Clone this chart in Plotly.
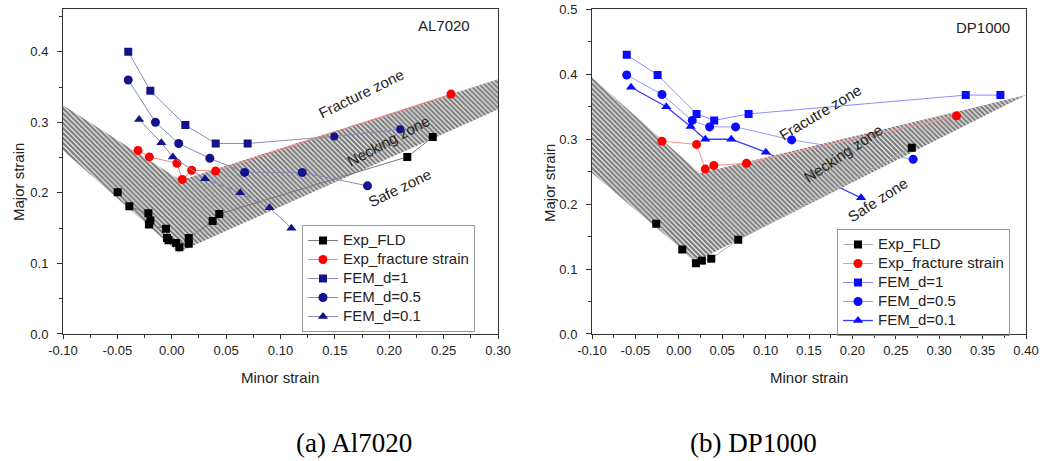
import plotly.graph_objects as go

# ---------------- data: (a) Al7020 ----------------
a_fld_x = [-0.0497, -0.039, -0.0215, -0.0197, -0.021, -0.0053, -0.0044, -0.003, 0.004, 0.007, 0.0156, 0.0156, 0.0376, 0.0437, 0.2166, 0.240]
a_fld_y = [0.201, 0.181, 0.171, 0.161, 0.155, 0.149, 0.136, 0.133, 0.129, 0.123, 0.128, 0.136, 0.160, 0.170, 0.251, 0.279]
a_frac_x = [-0.031, -0.0206, 0.0048, 0.0097, 0.0183, 0.0404, 0.2568]
a_frac_y = [0.260, 0.251, 0.242, 0.219, 0.232, 0.231, 0.340]
a_d1_x = [-0.040, -0.0197, 0.0125, 0.0404, 0.0698, 0.1495, 0.210]
a_d1_y = [0.400, 0.3446, 0.296, 0.270, 0.270, 0.280, 0.290]
a_d1_sym = ["square", "square", "square", "square", "square", "circle", "circle"]
a_d05_x = [-0.040, -0.015, 0.0064, 0.035, 0.067, 0.120, 0.180]
a_d05_y = [0.360, 0.300, 0.270, 0.249, 0.229, 0.229, 0.210]
a_d01_x = [-0.030, -0.0096, 0.001, 0.0306, 0.063, 0.090, 0.110]
a_d01_y = [0.304, 0.271, 0.251, 0.220, 0.200, 0.179, 0.150]
a_band_x = [-0.10, 0.008, 0.30, 0.30, 0.0063, -0.10]
a_band_y = [0.324, 0.218, 0.361, 0.318, 0.116, 0.260]

# ---------------- data: (b) DP1000 ----------------
b_fld_x = [-0.026, 0.004, 0.0197, 0.0266, 0.0374, 0.0685, 0.2684]
b_fld_y = [0.170, 0.130, 0.109, 0.113, 0.116, 0.145, 0.287]
b_frac_x = [-0.0194, 0.0205, 0.0305, 0.0404, 0.078, 0.320]
b_frac_y = [0.297, 0.292, 0.254, 0.2595, 0.263, 0.336]
b_d1_x = [-0.060, -0.0244, 0.0205, 0.0408, 0.0804, 0.3306, 0.3705]
b_d1_y = [0.430, 0.399, 0.339, 0.329, 0.339, 0.368, 0.368]
b_d05_x = [-0.060, -0.0194, 0.0155, 0.0355, 0.0654, 0.130, 0.270]
b_d05_y = [0.399, 0.369, 0.329, 0.319, 0.319, 0.299, 0.269]
b_d01_x = [-0.055, -0.0144, 0.0136, 0.0305, 0.0604, 0.1003, 0.210]
b_d01_y = [0.380, 0.350, 0.3195, 0.300, 0.300, 0.280, 0.2097]
b_band_x = [-0.10, 0.0244, 0.40, 0.0198, -0.10]
b_band_y = [0.395, 0.2477, 0.368, 0.112, 0.248]

# ---------------- tick labels ----------------
a_xtick_vals = [-0.10, -0.05, 0.00, 0.05, 0.10, 0.15, 0.20, 0.25, 0.30]
a_xtick_text = ["-0.10", "-0.05", "0.00", "0.05", "0.10", "0.15", "0.20", "0.25", "0.30"]
b_xtick_vals = [-0.10, -0.05, 0.00, 0.05, 0.10, 0.15, 0.20, 0.25, 0.30, 0.35, 0.40]
b_xtick_text = ["-0.10", "-0.05", "0.00", "0.05", "0.10", "0.15", "0.20", "0.25", "0.30", "0.35", "0.40"]
a_ytick_vals = [0.0, 0.1, 0.2, 0.3, 0.4]
a_ytick_text = ["0.0", "0.1", "0.2", "0.3", "0.4"]
b_ytick_vals = [0.0, 0.1, 0.2, 0.3, 0.4, 0.5]
b_ytick_text = ["0.0", "0.1", "0.2", "0.3", "0.4", "0.5"]

series_names = ["Exp_FLD", "Exp_fracture strain", "FEM_d=1", "FEM_d=0.5", "FEM_d=0.1"]

W, H = 1042, 461
SANS = "Liberation Sans, Arial, sans-serif"
SERIF = "Liberation Serif, Times New Roman, serif"
TXT = "#222222"

fig = go.Figure()

hatch = dict(shape="\\", fgcolor="#000000", bgcolor="#ffffff", size=3.5, solidity=0.7)


def band(x, y, xa, ya):
    return go.Scatter(x=x, y=y, fill="toself", mode="lines", line=dict(width=0, color="rgba(0,0,0,0)"),
                      fillcolor="rgba(0,0,0,0)", fillpattern=hatch, showlegend=False, hoverinfo="skip",
                      xaxis=xa, yaxis=ya)


def series(x, y, name, mcolor, lcolor, sym, size, lw, xa, ya, legend, rank):
    label = '<span style="font-size:15px">' + name + '</span>'
    return go.Scatter(x=x, y=y, name=label, mode="lines+markers",
                      marker=dict(color=mcolor, symbol=sym, size=size),
                      line=dict(color=lcolor, width=lw), xaxis=xa, yaxis=ya,
                      legend=legend, legendrank=rank)


# left panel: band beneath
fig.add_trace(band(a_band_x, a_band_y, "x", "y"))
NAVY = "#12128c"
NAVY_L = "#8a8ab8"
fig.add_trace(series(a_fld_x, a_fld_y, series_names[0], "#000000", "#7a7a7a", "square", 8, 1, "x", "y", "legend", 1))
fig.add_trace(series(a_frac_x, a_frac_y, series_names[1], "#ff0000", "#ff8080", "circle", 9, 1, "x", "y", "legend", 2))
fig.add_trace(series(a_d1_x, a_d1_y, series_names[2], NAVY, NAVY_L, a_d1_sym, 8, 1, "x", "y", "legend", 3))
fig.add_trace(series(a_d05_x, a_d05_y, series_names[3], NAVY, NAVY_L, "circle", 9, 1, "x", "y", "legend", 4))
fig.add_trace(series(a_d01_x, a_d01_y, series_names[4], NAVY, NAVY_L, "triangle-up", 9, 1, "x", "y", "legend", 5))

# right panel: band above the FEM lines
BLUE = "#0a0aff"
fig.add_trace(series(b_d1_x, b_d1_y, series_names[2], BLUE, "#8c8cff", "square", 8, 1, "x2", "y2", "legend2", 3))
fig.add_trace(series(b_d05_x, b_d05_y, series_names[3], BLUE, "#9a9aff", "circle", 9, 1, "x2", "y2", "legend2", 4))
fig.add_trace(series(b_d01_x, b_d01_y, series_names[4], BLUE, "#3a3aff", "triangle-up", 9, 1.3, "x2", "y2", "legend2", 5))
fig.add_trace(band(b_band_x, b_band_y, "x2", "y2"))
fig.add_trace(series(b_fld_x, b_fld_y, series_names[0], "#000000", "#b0b0b0", "square", 8, 1, "x2", "y2", "legend2", 1))
fig.add_trace(series(b_frac_x, b_frac_y, series_names[1], "#ff0000", "#ff9090", "circle", 9, 1, "x2", "y2", "legend2", 2))

ydom = [0.2755, 0.9796]


def xax(dom, rng, vals, text):
    return dict(domain=dom, range=rng, tickvals=vals, ticktext=text, ticks="outside", ticklen=4,
                tickcolor="#333", tickwidth=1, showline=True, linecolor="#333", linewidth=1, mirror=True,
                showgrid=False, zeroline=False, tickfont=dict(family=SANS, size=13, color=TXT),
                minor=dict(dtick=0.025, tick0=0, ticks="outside", ticklen=3, tickcolor="#333"),
                automargin=False, fixedrange=True)


def yax(anchor, rng, vals, text):
    return dict(domain=ydom, anchor=anchor, range=rng, tickvals=vals, ticktext=text, ticks="outside",
                ticklen=5, tickcolor="#333", tickwidth=1, showline=True, linecolor="#333", linewidth=1,
                mirror=True, showgrid=False, zeroline=False, tickfont=dict(family=SANS, size=13, color=TXT),
                minor=dict(dtick=0.05, tick0=0, ticks="outside", ticklen=3, tickcolor="#333"),
                ticklabelstandoff=6, automargin=False, fixedrange=True)


legend_common = dict(font=dict(family=SANS, size=12, color=TXT), bordercolor="#9a9a9a", borderwidth=1,
                     bgcolor="rgba(255,255,255,0)", xanchor="left", yanchor="top", traceorder="normal")

annotations = []


def txt(x, y, s, size=15, angle=0, xref="x", yref="y", family=SANS, color=TXT):
    annotations.append(dict(x=x, y=y, xref=xref, yref=yref, text=s, showarrow=False, textangle=angle,
                            xanchor="center", yanchor="middle", font=dict(family=family, size=size, color=color)))


# in-plot labels (a)
txt(0.2506, 0.4365, "AL7020")
txt(0.1743, 0.3406, "Fracture zone", angle=-26)
txt(0.1996, 0.2739, "Necking zone", angle=-28)
txt(0.2101, 0.2071, "Safe zone", angle=-26)
# in-plot labels (b)
txt(0.351, 0.472, "DP1000", xref="x2", yref="y2")
txt(0.1627, 0.3412, "Fracutre zone", angle=-31, xref="x2", yref="y2")
txt(0.1892, 0.2774, "Necking zone", angle=-34, xref="x2", yref="y2")
txt(0.2295, 0.2066, "Safe zone", angle=-33, xref="x2", yref="y2")

# axis titles
txt(18 / W, 1 - 182 / H, "Major strain", angle=-90, xref="paper", yref="paper")
txt(549 / W, 1 - 183 / H, "Major strain", angle=-90, xref="paper", yref="paper")
txt(279.5 / W, 1 - 377 / H, "Minor strain", xref="paper", yref="paper")
txt(809 / W, 1 - 377 / H, "Minor strain", xref="paper", yref="paper")

# captions
txt(354 / W, 1 - 443 / H, "(a) Al7020", size=27, xref="paper", yref="paper", family=SERIF, color="#000")
txt(753 / W, 1 - 443 / H, "(b) DP1000", size=27, xref="paper", yref="paper", family=SERIF, color="#000")

fig.update_layout(
    width=W, height=H, autosize=False, margin=dict(l=0, r=0, t=0, b=0, pad=0),
    paper_bgcolor="white", plot_bgcolor="white",
    font=dict(family=SANS, color=TXT),
    xaxis=xax([63 / W, 498 / W], [-0.10, 0.30], a_xtick_vals, a_xtick_text) | dict(anchor="y"),
    yaxis=yax("x", [0, 0.46], a_ytick_vals, a_ytick_text),
    xaxis2=xax([592 / W, 1026 / W], [-0.10, 0.40], b_xtick_vals, b_xtick_text) | dict(anchor="y2"),
    yaxis2=yax("x2", [0, 0.5], b_ytick_vals, b_ytick_text),
    legend=legend_common | dict(x=302 / W, y=1 - 225 / H),
    legend2=legend_common | dict(x=837 / W, y=1 - 229 / H),
    annotations=annotations,
    showlegend=True,
)

fig.write_html(
    "out.html",
    config={"responsive": False, "displayModeBar": False},
    post_script="document.body.style.margin='0';document.body.style.overflow='hidden';",
)
